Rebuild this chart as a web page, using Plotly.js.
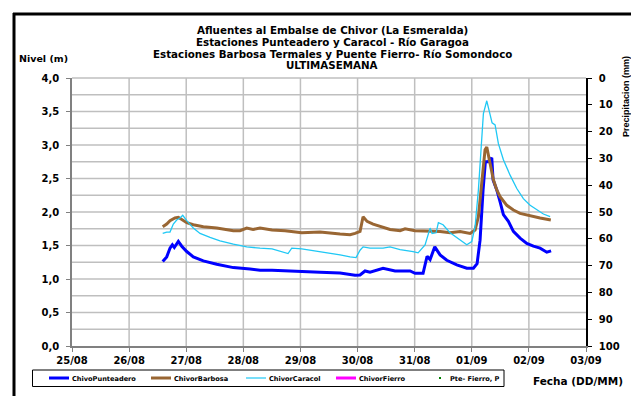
<!DOCTYPE html>
<html>
<head>
<meta charset="utf-8">
<script src="https://cdn.plot.ly/plotly-3.0.1.min.js"></script>
<style>html,body{margin:0;padding:0;background:#fff;}#chart{position:absolute;left:0;top:0;width:631px;height:396px;}</style>
</head>
<body>
<div id="chart"></div>
<script>
// ---- Data ----
const titleLines = [
  "Afluentes al Embalse de Chivor (La Esmeralda)",
  "Estaciones Punteadero y Caracol - Río Garagoa",
  "Estaciones Barbosa Termales y Puente Fierro- Río Somondoco",
  "ULTIMASEMANA"
];
const seriesNames = ["ChivoPunteadero", "ChivorBarbosa", "ChivorCaracol", "ChivorFierro", "Pte- Fierro, P"];

const punteaderoTime = [
  "2012-08-26 14:07","2012-08-26 15:48","2012-08-26 17:11","2012-08-26 18:10","2012-08-26 19:00",
  "2012-08-26 20:41","2012-08-26 22:07","2012-08-27 00:13","2012-08-27 02:59","2012-08-27 07:11",
  "2012-08-27 12:49","2012-08-27 19:48","2012-08-28 02:49","2012-08-28 07:01","2012-08-28 12:04",
  "2012-08-28 17:32","2012-08-29 00:33","2012-08-29 08:14","2012-08-29 16:39","2012-08-29 20:51",
  "2012-08-29 22:57","2012-08-30 01:03","2012-08-30 03:09","2012-08-30 05:15","2012-08-30 10:43",
  "2012-08-30 15:46","2012-08-30 22:04","2012-08-31 00:10","2012-08-31 03:32","2012-08-31 05:13",
  "2012-08-31 06:29","2012-08-31 08:27","2012-08-31 10:41","2012-08-31 13:30","2012-08-31 17:42",
  "2012-08-31 21:54","2012-09-01 00:41","2012-09-01 02:14","2012-09-01 03:29","2012-09-01 04:45",
  "2012-09-01 05:43","2012-09-01 06:51","2012-09-01 08:24","2012-09-01 08:57","2012-09-01 10:30",
  "2012-09-01 11:54","2012-09-01 13:17","2012-09-01 15:23","2012-09-01 17:29","2012-09-01 20:18",
  "2012-09-01 23:07","2012-09-02 01:54","2012-09-02 04:42","2012-09-02 07:31","2012-09-02 09:20"
];
const punteaderoLevel = [
  1.26,1.33,1.46,1.51,1.47,
  1.56,1.49,1.41,1.33,1.27,
  1.22,1.17,1.15,1.13,1.13,
  1.12,1.11,1.10,1.09,1.07,
  1.055,1.06,1.12,1.10,1.16,
  1.12,1.12,1.085,1.085,1.34,
  1.29,1.48,1.36,1.28,1.21,
  1.16,1.16,1.23,1.58,2.33,
  2.75,2.75,2.81,2.48,2.33,
  2.15,1.96,1.86,1.71,1.61,
  1.53,1.49,1.46,1.40,1.42
];

const barbosaTime = [
  "2012-08-26 14:07","2012-08-26 15:48","2012-08-26 17:11","2012-08-26 19:17","2012-08-26 20:41",
  "2012-08-26 22:07","2012-08-27 00:13","2012-08-27 02:59","2012-08-27 07:11","2012-08-27 12:49",
  "2012-08-27 19:48","2012-08-27 22:37","2012-08-28 01:26","2012-08-28 04:05","2012-08-28 07:01",
  "2012-08-28 12:04","2012-08-28 17:32","2012-08-29 00:33","2012-08-29 08:14","2012-08-29 16:39",
  "2012-08-29 20:51","2012-08-29 22:57","2012-08-30 01:03","2012-08-30 02:19","2012-08-30 04:00",
  "2012-08-30 06:31","2012-08-30 09:28","2012-08-30 13:40","2012-08-30 17:52","2012-08-30 19:58",
  "2012-08-31 00:10","2012-08-31 06:29","2012-08-31 10:41","2012-08-31 14:53","2012-08-31 19:05",
  "2012-08-31 23:17","2012-09-01 01:23","2012-09-01 02:47","2012-09-01 04:12","2012-09-01 05:35",
  "2012-09-01 06:18","2012-09-01 07:42","2012-09-01 09:05","2012-09-01 10:30","2012-09-01 11:54",
  "2012-09-01 14:43","2012-09-01 17:29","2012-09-01 20:18","2012-09-02 00:31","2012-09-02 04:42",
  "2012-09-02 09:13"
];
const barbosaLevel = [
  1.78,1.82,1.87,1.91,1.92,
  1.89,1.84,1.81,1.78,1.76,
  1.72,1.72,1.76,1.74,1.76,
  1.73,1.72,1.69,1.70,1.67,
  1.66,1.68,1.71,1.93,1.86,
  1.82,1.79,1.74,1.72,1.75,
  1.72,1.72,1.71,1.69,1.71,
  1.68,1.73,1.93,2.48,2.93,
  2.97,2.73,2.48,2.33,2.23,
  2.10,2.03,1.98,1.94,1.91,
  1.88
];

const caracolTime = [
  "2012-08-26 14:07","2012-08-26 15:48","2012-08-26 17:11","2012-08-26 18:35","2012-08-26 20:00",
  "2012-08-26 21:23","2012-08-26 22:32","2012-08-27 00:13","2012-08-27 02:59","2012-08-27 05:48",
  "2012-08-27 10:00","2012-08-27 14:12","2012-08-27 19:48","2012-08-28 01:26","2012-08-28 07:01",
  "2012-08-28 12:04","2012-08-28 18:47","2012-08-28 20:21","2012-08-29 00:33","2012-08-29 08:14",
  "2012-08-29 16:39","2012-08-29 20:51","2012-08-29 23:22","2012-08-30 01:03","2012-08-30 02:19",
  "2012-08-30 05:15","2012-08-30 10:43","2012-08-30 13:40","2012-08-30 17:52","2012-08-30 23:20",
  "2012-08-31 01:26","2012-08-31 04:22","2012-08-31 06:29","2012-08-31 07:19","2012-08-31 09:00",
  "2012-08-31 09:58","2012-08-31 11:56","2012-08-31 14:53","2012-08-31 19:48","2012-08-31 21:54",
  "2012-09-01 00:00","2012-09-01 01:23","2012-09-01 02:47","2012-09-01 04:12","2012-09-01 04:53",
  "2012-09-01 06:18","2012-09-01 07:42","2012-09-01 08:32","2012-09-01 09:48","2012-09-01 11:11",
  "2012-09-01 13:17","2012-09-01 16:06","2012-09-01 18:55","2012-09-01 21:41","2012-09-02 00:31",
  "2012-09-02 03:19","2012-09-02 06:06","2012-09-02 08:55"
];
const caracolLevel = [
  1.68,1.70,1.70,1.82,1.88,
  1.91,1.95,1.87,1.76,1.68,
  1.62,1.57,1.52,1.48,1.46,
  1.45,1.38,1.46,1.45,1.41,
  1.36,1.33,1.32,1.43,1.48,
  1.46,1.46,1.48,1.44,1.41,
  1.39,1.51,1.76,1.68,1.69,
  1.84,1.81,1.69,1.56,1.51,
  1.56,1.78,2.33,3.17,3.47,
  3.66,3.47,3.33,3.30,3.02,
  2.78,2.55,2.35,2.20,2.10,
  2.03,1.97,1.93
];

// No visible readings for these two series in the reference
const fierroTime = [];
const fierroLevel = [];
const fierroRainTime = [];
const fierroRain = [];

const dateRange = ["2012-08-25", "2012-09-03"];
const levelRange = [0, 4];
const dayGrid = ["2012-08-26","2012-08-27","2012-08-28","2012-08-29","2012-08-30","2012-08-31","2012-09-01","2012-09-02"];
const levelGrid = [0.25,0.5,0.75,1,1.25,1.5,1.75,2,2.25,2.5,2.75,3,3.25,3.5,3.75,4];

(function () {
  const FONT = "DejaVu Sans";
  const GRID = "#bfbfbf";
  const COLORS = ["#0000ff", "#996633", "#1fc8f5", "#ff00ff", "#008000"];

  const traceList = [
    {x: punteaderoTime, y: punteaderoLevel, name: seriesNames[0], type: "scatter", mode: "lines",
     line: {color: COLORS[0], width: 3}},
    {x: barbosaTime, y: barbosaLevel, name: seriesNames[1], type: "scatter", mode: "lines",
     line: {color: COLORS[1], width: 3}},
    {x: caracolTime, y: caracolLevel, name: seriesNames[2], type: "scatter", mode: "lines",
     line: {color: COLORS[2], width: 1.3}},
    {x: fierroTime, y: fierroLevel, name: seriesNames[3], type: "scatter", mode: "lines",
     line: {color: COLORS[3], width: 3}},
    {x: fierroRainTime, y: fierroRain, name: seriesNames[4], type: "scatter", mode: "markers",
     marker: {color: COLORS[4], size: 3}, yaxis: "y2"}
  ];

  const PL = 72, PW = 514, PB = 346, PH = 268;
  const toPX = v => (v - PL) / PW;
  const toPY = v => (PB - v) / PH;
  const bold = (s, fam) => ({family: fam || FONT, size: s, color: "#000", weight: "bold"});

  const annList = titleLines.map((t, i) => ({
    text: t, xref: "paper", yref: "paper", x: toPX(332), y: toPY(30 + 11.8 * i),
    xanchor: "center", yanchor: "middle", showarrow: false, font: bold(10.3)
  }));
  annList.push({text: "Nivel (m)", xref: "paper", yref: "paper", x: toPX(43), y: toPY(58),
    xanchor: "center", yanchor: "middle", showarrow: false, font: bold(9.5)});
  annList.push({text: "Fecha (DD/MM)", xref: "paper", yref: "paper", x: toPX(578), y: toPY(381),
    xanchor: "center", yanchor: "middle", showarrow: false, font: bold(10.5)});
  annList.push({text: "Precipitacion (mm)", xref: "paper", yref: "paper", x: toPX(626), y: toPY(97),
    xanchor: "center", yanchor: "middle", showarrow: false, textangle: -90, font: bold(9, "Liberation Sans")});

  // gridlines at the axes' day / level steps (fraction of each axis range)
  const t0 = Date.parse(dateRange[0] + "T00:00:00Z"), t1 = Date.parse(dateRange[1] + "T00:00:00Z");
  const shapeList = [];
  dayGrid.forEach(d => {
    const f = (Date.parse(d + "T00:00:00Z") - t0) / (t1 - t0);
    shapeList.push({type: "line", xref: "paper", yref: "paper", x0: f, x1: f, y0: 0, y1: 1,
      layer: "below", line: {color: GRID, width: 1.5}});
  });
  levelGrid.forEach(v => {
    const f = (v - levelRange[0]) / (levelRange[1] - levelRange[0]);
    shapeList.push({type: "line", xref: "paper", yref: "paper", x0: 0, x1: 1, y0: f, y1: f,
      layer: "below", line: {color: GRID, width: 1.5}});
  });

  // outer frame and legend
  shapeList.push(
    {type: "line", xref: "paper", yref: "paper", x0: toPX(14), x1: toPX(14), y0: toPY(13), y1: toPY(400),
     line: {color: "#000", width: 3}},
    {type: "line", xref: "paper", yref: "paper", x0: toPX(13), x1: toPX(640), y0: toPY(14), y1: toPY(14),
     line: {color: "#000", width: 3}},
    {type: "rect", xref: "paper", yref: "paper", x0: toPX(32.5), x1: toPX(504), y0: toPY(370), y1: toPY(386.5),
     line: {color: "#000", width: 1}, fillcolor: "#fff"}
  );
  const legendStarts = [49, 151, 246, 336, 436];
  seriesNames.forEach((n, i) => {
    if (i < 4) {
      shapeList.push({type: "line", xref: "paper", yref: "paper", x0: toPX(legendStarts[i]), x1: toPX(legendStarts[i] + 20),
        y0: toPY(378), y1: toPY(378), line: {color: COLORS[i], width: i === 2 ? 1.2 : 3}});
    } else {
      shapeList.push({type: "rect", xref: "paper", yref: "paper", x0: toPX(legendStarts[i] + 3), x1: toPX(legendStarts[i] + 5),
        y0: toPY(377), y1: toPY(379), line: {width: 0}, fillcolor: COLORS[i]});
    }
    annList.push({text: n, xref: "paper", yref: "paper",
      x: toPX(legendStarts[i] + (i < 4 ? 21 : 12)), y: toPY(378.5), xanchor: "left", yanchor: "middle",
      showarrow: false, font: bold(6.6)});
  });

  const lay = {
    width: 631, height: 396,
    margin: {l: PL, r: 631 - PL - PW, t: 78, b: 396 - PB, autoexpand: false},
    paper_bgcolor: "#fff", plot_bgcolor: "#fff",
    separators: ",.",
    showlegend: false,
    xaxis: {type: "date", range: dateRange, dtick: 86400000, tickformat: "%d/%m",
      showgrid: false, zeroline: false,
      showline: true, linecolor: "#808080", linewidth: 1.5, ticks: "outside", ticklen: 4, tickcolor: "#808080",
      tickfont: bold(10)},
    yaxis: {range: levelRange, dtick: 0.5, tick0: 0, tickformat: ".1f",
      showgrid: false, zeroline: false,
      showline: true, linecolor: "#808080", linewidth: 1.5, ticks: "outside", ticklen: 4, tickcolor: "#808080",
      ticklabelstandoff: 5, tickfont: bold(10)},
    yaxis2: {overlaying: "y", side: "right", range: [100, 0], dtick: 10,
      showgrid: false, zeroline: false, showline: true, linecolor: "#000", linewidth: 1.5,
      ticks: "outside", ticklen: 4, tickcolor: "#000", ticklabelstandoff: 5,
      tickfont: bold(10)},
    shapes: shapeList,
    annotations: annList
  };

  Plotly.newPlot("chart", traceList, lay, {displayModeBar: false});
})();
</script>
</body>
</html>
